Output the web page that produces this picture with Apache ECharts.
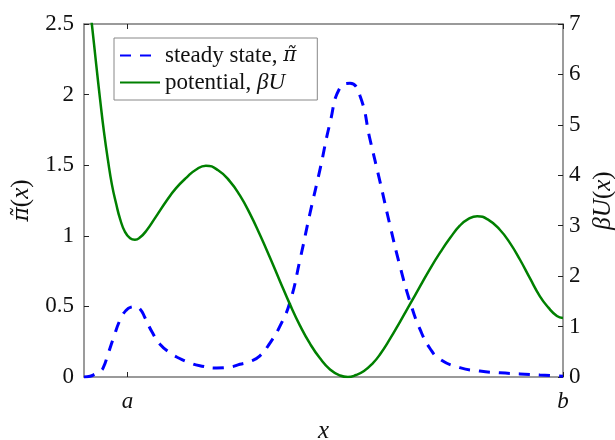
<!DOCTYPE html>
<html>
<head>
<meta charset="utf-8">
<script src="https://cdn.jsdelivr.net/npm/echarts@6/dist/echarts.min.js"></script>
<style>html,body{margin:0;padding:0;background:#fff;}#c{width:615px;height:440px;}</style>
</head>
<body>
<div id="c"></div>
<script>
// x positions (domain: a = 0, b = 1)
const xTicks = [0, 1];
const xTickLabels = ['a', 'b'];
// steady state pi~(x)
const xPi = [-0.1,-0.086,-0.075,-0.063,-0.056,-0.045,-0.033,-0.017,-0.004,0.008,0.017,0.029,0.040,0.056,0.075,0.098,0.114,0.143,0.166,0.205,0.235,0.258,0.281,0.304,0.327,0.350,0.373,0.396,0.419,0.442,0.465,0.488,0.511,0.534,0.557,0.580,0.603,0.626,0.649,0.672,0.695,0.718,0.763,0.809,0.855,0.901,0.947,1.0];
const piVals = [0.0,0.005,0.02,0.04,0.064,0.16,0.27,0.406,0.47,0.495,0.498,0.48,0.42,0.32,0.23,0.17,0.14,0.10,0.08,0.064,0.07,0.09,0.11,0.15,0.24,0.36,0.53,0.83,1.16,1.47,1.80,2.05,2.08,1.99,1.68,1.38,1.07,0.78,0.53,0.335,0.20,0.125,0.066,0.042,0.03,0.022,0.014,0.005];
// potential beta U(x)
const xU = [-0.092,-0.082,-0.072,-0.063,-0.054,-0.045,-0.036,-0.026,-0.017,-0.006,0.006,0.017,0.029,0.044,0.063,0.090,0.111,0.136,0.157,0.180,0.208,0.235,0.258,0.281,0.304,0.327,0.350,0.373,0.396,0.419,0.442,0.465,0.488,0.506,0.525,0.543,0.562,0.580,0.603,0.626,0.649,0.672,0.695,0.718,0.741,0.763,0.782,0.803,0.828,0.855,0.878,0.901,0.924,0.947,0.966,0.986,1.0];
const uVals = [7.75,7.0,6.2,5.5,4.85,4.3,3.82,3.43,3.13,2.88,2.75,2.72,2.77,2.91,3.15,3.50,3.74,3.96,4.11,4.19,4.10,3.88,3.60,3.24,2.82,2.37,1.90,1.44,1.02,0.66,0.37,0.15,0.03,0.0,0.04,0.12,0.26,0.45,0.76,1.10,1.45,1.80,2.15,2.47,2.76,3.00,3.13,3.19,3.12,2.92,2.66,2.33,1.96,1.60,1.38,1.21,1.17];

const serif = "'Liberation Serif', 'DejaVu Serif', serif";
const piFont = "'DejaVu Serif', serif";
const axisGray = '#7a7a7a';
const tickCol = '#222';
const chart = echarts.init(document.getElementById('c'), null, {renderer: 'canvas'});
const lab = {fontFamily: serif, fontSize: 23, color: '#111'};
const nameRich = {
  i: {fontFamily: serif, fontSize: 25, fontStyle: 'italic', color: '#111'},
  p: {fontFamily: piFont, fontSize: 22, fontStyle: 'italic', color: '#111'},
  r: {fontFamily: serif, fontSize: 25, color: '#111'}
};
chart.setOption({
  animation: false,
  backgroundColor: '#fff',
  grid: {left: 84, right: 52, top: 24, bottom: 63, containLabel: false, outerBoundsMode: 'none'},
  legend: {
    left: 114, top: 38,
    orient: 'vertical',
    backgroundColor: '#fff',
    borderColor: '#888', borderWidth: 1, borderRadius: 0,
    padding: [6, 21, 6, 5],
    itemWidth: 40, itemHeight: 22, itemGap: 4,
    itemStyle: {opacity: 0},
    textStyle: {fontFamily: serif, fontSize: 23, color: '#111',
      rich: {
        i: {fontFamily: serif, fontSize: 23, fontStyle: 'italic', color: '#111'},
        p: {fontFamily: piFont, fontSize: 20, fontStyle: 'italic', color: '#111'}
      }},
    formatter: function (n) {
      return n === 'pi' ? 'steady state, {p|π̃}' : 'potential, {i|βU}';
    },
    data: ['pi', 'U']
  },
  xAxis: [{
    type: 'value', min: -0.1, max: 1, position: 'bottom',
    name: 'x', nameLocation: 'middle', nameGap: 42,
    nameTextStyle: {fontFamily: serif, fontSize: 25, fontStyle: 'italic', color: '#111'},
    axisLine: {show: true, onZero: false, lineStyle: {color: axisGray, width: 1.5}},
    axisTick: {show: true, inside: true, length: 5, customValues: xTicks, lineStyle: {color: tickCol}},
    axisLabel: {show: true, customValues: xTicks, margin: 13,
      formatter: function (v) { return xTickLabels[xTicks.indexOf(v)] || ''; },
      fontFamily: serif, fontSize: 23, fontStyle: 'italic', color: '#111'},
    splitLine: {show: false}
  }, {
    type: 'value', min: -0.1, max: 1, position: 'top',
    axisLine: {show: true, onZero: false, lineStyle: {color: axisGray, width: 1.5}},
    axisTick: {show: true, inside: true, length: 5, customValues: xTicks, lineStyle: {color: tickCol}},
    axisLabel: {show: false},
    splitLine: {show: false}
  }],
  yAxis: [{
    type: 'value', min: 0, max: 2.5, interval: 0.5, position: 'left',
    name: '{p|π̃}{r|(}{i|x}{r|)}', nameLocation: 'middle', nameGap: 45, nameRotate: 90,
    nameTextStyle: {fontFamily: serif, fontSize: 25, color: '#111', rich: nameRich},
    axisLine: {show: true, onZero: false, lineStyle: {color: axisGray, width: 1.5}},
    axisTick: {show: true, inside: true, length: 5, lineStyle: {color: tickCol}},
    axisLabel: Object.assign({margin: 10}, lab),
    splitLine: {show: false}
  }, {
    type: 'value', min: 0, max: 7, interval: 1, position: 'right',
    name: '{i|βU}{r|(}{i|x}{r|)}', nameLocation: 'middle', nameGap: 26, nameRotate: 90,
    nameTextStyle: {fontFamily: serif, fontSize: 25, color: '#111', rich: nameRich},
    axisLine: {show: true, onZero: false, lineStyle: {color: axisGray, width: 1.5}},
    axisTick: {show: true, inside: true, length: 5, lineStyle: {color: tickCol}},
    axisLabel: Object.assign({margin: 6}, lab),
    splitLine: {show: false}
  }],
  series: [{
    name: 'pi', type: 'line', yAxisIndex: 0, xAxisIndex: 0,
    data: xPi.map((x, i) => [x, piVals[i]]),
    showSymbol: false, symbol: 'none', smooth: 0.5,
    lineStyle: {color: '#0000ff', width: 3, type: [11, 9]},
    itemStyle: {color: '#0000ff'}, clip: true
  }, {
    name: 'U', type: 'line', yAxisIndex: 1, xAxisIndex: 0,
    data: xU.map((x, i) => [x, uVals[i]]),
    showSymbol: false, symbol: 'none', smooth: 0.5,
    lineStyle: {color: '#008000', width: 2.5},
    itemStyle: {color: '#008000'}, clip: true
  }]
});
</script>
</body>
</html>
